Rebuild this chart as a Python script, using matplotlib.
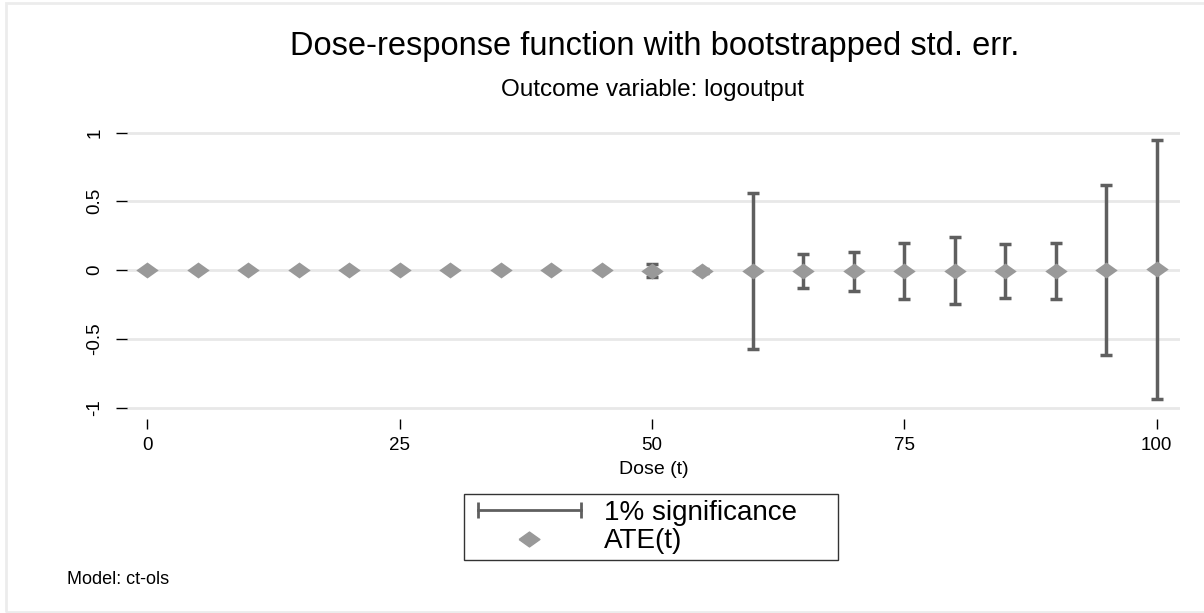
"""
Dose-response function with bootstrapped std. err. (ct-ols)
"""

import numpy as np
import matplotlib.pyplot as plt
from matplotlib.patches import Rectangle
from matplotlib.lines import Line2D
from matplotlib.legend_handler import HandlerLine2D

plt.rcParams['font.family'] = ['Liberation Sans', 'DejaVu Sans']

# data
dose = [0, 5, 10, 15, 20, 25, 30, 35, 40, 45, 50, 55, 60, 65, 70, 75, 80, 85, 90, 95, 100]
ate = [0, 0, 0, 0, 0, 0, 0, 0, 0, 0, -0.005, -0.008, -0.008, -0.008, -0.01, -0.01,
       -0.005, -0.008, -0.005, 0, 0.004]
upper = [0, 0, 0, 0, 0, 0, 0, 0, 0, 0, 0.045, 0.005, 0.56, 0.114, 0.13, 0.194,
         0.24, 0.19, 0.2, 0.62, 0.948]
lower = [0, 0, 0, 0, 0, 0, 0, 0, 0, 0, -0.05, -0.02, -0.575, -0.13, -0.15, -0.213,
         -0.25, -0.206, -0.209, -0.62, -0.94]
has_bar = [False] * 10 + [True] * 11

xticks = [0, 25, 50, 75, 100]
yticks = [-1, -0.5, 0, 0.5, 1]
ytick_labels = ['-1', '-0.5', '0', '0.5', '1']

bar_color = '#5f5f5f'
dot_color = '#999999'
diamond = [(-1.4, 0), (0, 1), (1.4, 0), (0, -1), (-1.4, 0)]

fig = plt.figure(figsize=(12.04, 6.13), dpi=100)
ax = fig.add_axes([127 / 1204, 1 - 418.5 / 613, (1180 - 127) / 1204, (418.5 - 121.5) / 613])

# light frame round the whole graph
fig.patches.append(Rectangle((6 / 1204, 1 / 613), 1.2, 609 / 613, transform=fig.transFigure,
                             fill=False, edgecolor='#ececec', linewidth=2))

for y in yticks:
    ax.axhline(y, color='#e8e8e8', linewidth=2, zorder=0)

x = np.array(dose, dtype=float)
m = np.array(has_bar)
ax.vlines(x[m], np.array(lower)[m], np.array(upper)[m], color=bar_color, linewidth=2.5, zorder=2)
ax.hlines(np.array(upper)[m], x[m] - 0.6, x[m] + 0.6, color=bar_color, linewidth=2.5, zorder=2)
ax.hlines(np.array(lower)[m], x[m] - 0.6, x[m] + 0.6, color=bar_color, linewidth=2.5, zorder=2)
ax.scatter(dose, ate, marker=diamond, s=260, color=dot_color, linewidths=0, zorder=3)

ax.set_xlim(-2, 102.3)
ax.set_ylim(-1.08, 1.08)
for s in ax.spines.values():
    s.set_visible(False)
ax.set_xticks(xticks)
ax.set_yticks(yticks)
ax.set_yticklabels(ytick_labels, rotation=90, va='center')
ax.tick_params(axis='x', length=7, width=1, pad=6, labelsize=13.5)
ax.tick_params(axis='y', length=8, width=1, pad=9, labelsize=13.5)
ax.set_xlabel('Dose (t)', fontsize=14, labelpad=5)

fig.text(654.5 / 1204, 1 - 46 / 613, 'Dose-response function with bootstrapped std. err.',
         ha='center', va='center', fontsize=23.5)
fig.text(652.5 / 1204, 1 - 90 / 613, 'Outcome variable: logoutput', ha='center', va='center',
         fontsize=17.5)
fig.text(67 / 1204, 1 - 580 / 613, 'Model: ct-ols', ha='left', va='center', fontsize=13)

ci_handle = Line2D([0], [0], color=bar_color, linewidth=2, marker='|', markersize=11,
                   markeredgewidth=2)
ate_handle = Line2D([0], [0], linestyle='none', marker=diamond, markersize=15, color=dot_color)
leg = fig.legend([ci_handle, ate_handle], ['1% significance', 'ATE(t)'], loc='lower left',
                 bbox_to_anchor=(464 / 1204, 1 - 560 / 613, 374 / 1204, 69 / 613),
                 mode='expand', fontsize=20, frameon=True,
                 fancybox=False, edgecolor='black', handlelength=4.3, borderpad=0.2,
                 labelspacing=0.1, handletextpad=0.55, borderaxespad=0,
                 handler_map={ci_handle: HandlerLine2D(numpoints=2)})
leg.get_frame().set_linewidth(1)

fig.savefig('out.png', dpi=100)
